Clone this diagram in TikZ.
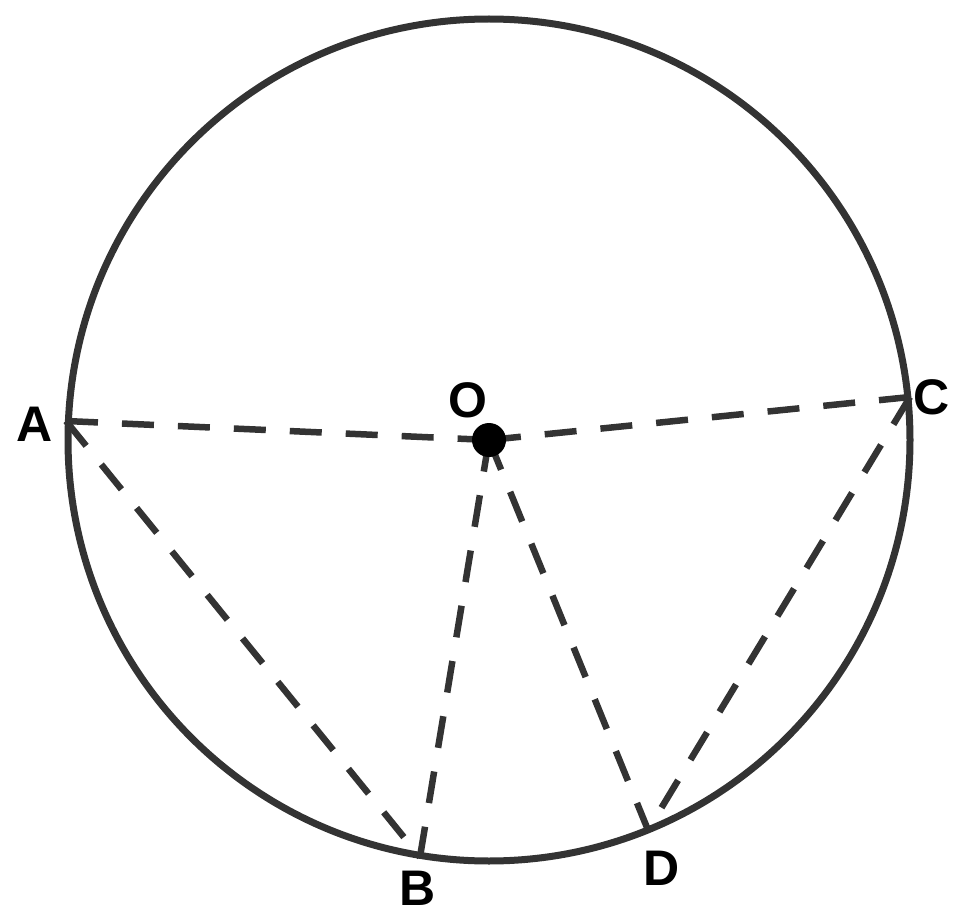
\documentclass[tikz,border=0pt]{standalone}
\usepackage{fontspec}
\setmainfont{Liberation Sans}
\begin{document}
\begin{tikzpicture}[x=1pt,y=-1pt,
  rim/.style={draw=black!80, line width=7pt},
  chord/.style={draw=black!80, line width=6.5pt, dash pattern=on 32pt off 24pt},
  lbl/.style={font=\fontsize{50}{60}\selectfont\bfseries, inner sep=0pt}]
\useasboundingbox (0,0) rectangle (962,923);
\coordinate (Oc) at (489,440);
\draw[rim] (Oc) circle[radius=421];
\coordinate (A) at (66,421);
\coordinate (B) at (420,857);
\coordinate (C) at (910,397);
\coordinate (D) at (648,830);
\draw[chord] (A) -- (Oc);
\draw[chord] (Oc) -- (C);
\draw[chord] (A) -- (B);
\draw[chord] (Oc) -- (B);
\draw[chord] (Oc) -- (D);
\draw[chord] (C) -- (D);
\node[circle, fill=black, minimum size=34pt, inner sep=0pt] (O) at (Oc) {};
\node[lbl] (lA) at (35,424) {A};
\node[lbl] (lO) at (468,400) {O};
\node[lbl] (lC) at (932,397) {C};
\node[lbl] (lB) at (418,888) {B};
\node[lbl] (lD) at (662,868) {D};
\end{tikzpicture}
\end{document}
